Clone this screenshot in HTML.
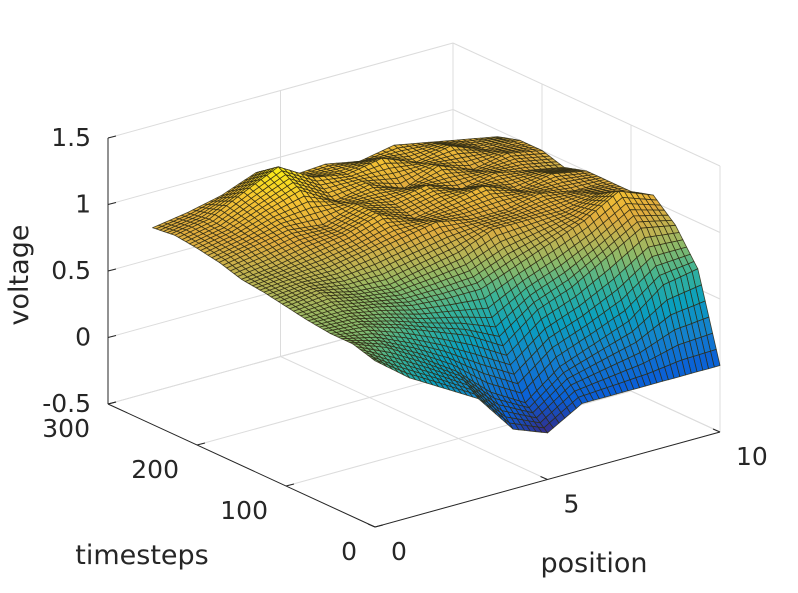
<!DOCTYPE html>
<html><head><meta charset="utf-8"><style>
body{margin:0;background:#fff}
svg{display:block;font-family:"DejaVu Sans","Liberation Sans",sans-serif}
</style></head><body>
<svg id="chart" width="798" height="593" viewBox="0 0 798 593" xmlns="http://www.w3.org/2000/svg">
<g id="walls"></g>
<g id="surf"></g>
<g id="axes"></g>
</svg>
<script>
const positions=[0,1,2,3,4,5,6,7,8,9,10];
const timesteps=[0,25,50,75,100,125,150,175,200,225,250];
const voltage=[
[0.75,0.55,0.40,0.25,-0.05,-0.15,0.00,0.00,0.00,0.00,0.00],
[0.80,0.70,0.55,0.38,0.15,0.00,0.20,0.30,0.40,0.60,0.65],
[0.80,0.78,0.70,0.60,0.50,0.35,0.55,0.65,0.80,0.95,0.90],
[0.82,0.82,0.78,0.72,0.70,0.70,0.80,0.90,1.00,1.15,1.05],
[0.85,0.88,0.82,0.80,0.85,0.90,1.00,1.00,1.00,1.05,1.00],
[0.88,0.90,0.90,0.95,1.00,1.05,1.00,1.00,1.05,1.00,1.00],
[0.90,0.93,0.98,1.02,1.10,1.00,1.05,1.10,1.00,1.05,1.00],
[0.95,1.00,1.05,1.02,1.10,1.05,1.10,1.00,1.05,1.00,0.95],
[0.98,1.03,1.12,1.20,1.05,1.10,1.00,1.10,1.00,1.05,1.00],
[1.00,1.05,1.18,1.30,1.15,1.10,1.15,1.05,1.10,1.00,1.00],
[0.98,1.02,1.08,1.18,1.08,1.10,1.05,1.10,1.05,1.00,0.95]];
const zTicks=[-0.5,0,0.5,1,1.5];
const zTickLabels=["-0.5","0","0.5","1","1.5"];
const pTicks=[0,5,10];
const tTicks=[0,100,200,300];

const NS="http://www.w3.org/2000/svg";
function px(p,t){return 375+p/10*345-t/300*267;}
function py(p,t,z){return 527-p/10*95-t/300*123-(z+0.5)*133;}
function mk(tag,attrs,parent){const e=document.createElementNS(NS,tag);for(const k in attrs)e.setAttribute(k,attrs[k]);parent.appendChild(e);return e;}
const walls=document.getElementById('walls'),surf=document.getElementById('surf'),axes=document.getElementById('axes');
function line(g,a,b,col,w,name){const e=mk('line',{x1:a[0],y1:a[1],x2:b[0],y2:b[1],stroke:col,'stroke-width':w},g);

}
const P=(p,t,z)=>[px(p,t),py(p,t,z)];
const gcol="#dcdcdc";
zTicks.forEach(z=>{line(walls,P(0,300,z),P(10,300,z),gcol,1,'grid-line');line(walls,P(10,300,z),P(10,0,z),gcol,1,'grid-line');});
pTicks.forEach(p=>{line(walls,P(p,300,-0.5),P(p,300,1.5),gcol,1,'grid-line');line(walls,P(p,0,-0.5),P(p,300,-0.5),gcol,1,'grid-line');});
tTicks.forEach(t=>{line(walls,P(10,t,-0.5),P(10,t,1.5),gcol,1,'grid-line');line(walls,P(0,t,-0.5),P(10,t,-0.5),gcol,1,'grid-line');});

const stops=[[0,[53,42,135]],[0.12,[10,95,215]],[0.28,[20,130,205]],[0.42,[10,160,190]],[0.55,[60,180,150]],[0.65,[140,185,105]],[0.72,[185,180,85]],[0.8,[225,172,62]],[0.9,[245,195,50]],[1,[249,240,20]]];
function parula(v){v=Math.max(0,Math.min(1,v));for(let i=1;i<stops.length;i++){if(v<=stops[i][0]){const a=stops[i-1],b=stops[i],f=(v-a[0])/(b[0]-a[0]);return 'rgb('+a[1].map((c,j)=>Math.round(c+(b[1][j]-c)*f)).join(',')+')';}}return 'rgb(249,240,20)';}
let zmin=Infinity,zmax=-Infinity;voltage.forEach(r=>r.forEach(v=>{zmin=Math.min(zmin,v);zmax=Math.max(zmax,v);}));
const S=6;
function zAt(i,j,u,w){const a=voltage[i][j],b=voltage[i][j+1],c=voltage[i+1][j],d=voltage[i+1][j+1];return a*(1-u)*(1-w)+b*u*(1-w)+c*(1-u)*w+d*u*w;}
const quads=[];
for(let i=0;i<timesteps.length-1;i++)for(let j=0;j<positions.length-1;j++)for(let a=0;a<S;a++)for(let b=0;b<S;b++){
 const u0=b/S,u1=(b+1)/S,w0=a/S,w1=(a+1)/S;
 const p0=positions[j]+(positions[j+1]-positions[j])*u0,p1=positions[j]+(positions[j+1]-positions[j])*u1;
 const t0=timesteps[i]+(timesteps[i+1]-timesteps[i])*w0,t1=timesteps[i]+(timesteps[i+1]-timesteps[i])*w1;
 const zs=[zAt(i,j,u0,w0),zAt(i,j,u1,w0),zAt(i,j,u1,w1),zAt(i,j,u0,w1)];
 const pts=[P(p0,t0,zs[0]),P(p1,t0,zs[1]),P(p1,t1,zs[2]),P(p0,t1,zs[3])];
 const zc=(zs[0]+zs[1]+zs[2]+zs[3])/4;
 quads.push({d:(p0+p1)/20+(t0+t1)/600,pts,zc});
}
quads.sort((a,b)=>b.d-a.d);
quads.forEach(q=>{const e=mk('polygon',{points:q.pts.map(p=>p[0].toFixed(1)+','+p[1].toFixed(1)).join(' '),fill:parula((q.zc-zmin)/(zmax-zmin)),stroke:'#2e2a14','stroke-width':0.8,'stroke-opacity':0.85,'stroke-linejoin':'round'},surf);

});

line(axes,P(0,300,-0.5),P(0,300,1.5),'#262626',1,'z-axis-line');
line(axes,P(0,300,-0.5),P(0,0,-0.5),'#262626',1,'timesteps-axis-line');
line(axes,P(0,0,-0.5),P(10,0,-0.5),'#262626',1,'position-axis-line');
function txt(x,y,s,anchor,name,extra){const e=mk('text',Object.assign({x:x,y:y,'text-anchor':anchor,'font-size':25,fill:'#262626'},extra||{}),axes);e.textContent=s;

return e;}
zTicks.forEach((z,k)=>{const p=P(0,300,z);line(axes,p,[p[0]+8,p[1]-2],'#262626',1,'z-tick');txt(p[0]-17,p[1]+8,zTickLabels[k],'end','z-tick-label');});
tTicks.forEach(t=>{const p=P(0,t,-0.5);line(axes,p,[p[0]+8,p[1]-2],'#262626',1,'t-tick');txt(p[0]-18,p[1]+33,String(t),'end','timesteps-tick-label');});
pTicks.forEach(p=>{const q=P(p,0,-0.5);line(axes,q,[q[0]-7,q[1]-3],'#262626',1,'p-tick');txt(q[0]+16,q[1]+33,String(p),'start','position-tick-label');});
txt(28,275,'voltage','middle','z-axis-title',{transform:'rotate(-90 28 275)','font-size':27});
txt(142,564,'timesteps','middle','timesteps-axis-title',{'font-size':27});
txt(594,572,'position','middle','position-axis-title',{'font-size':27});
</script>
</body></html>
